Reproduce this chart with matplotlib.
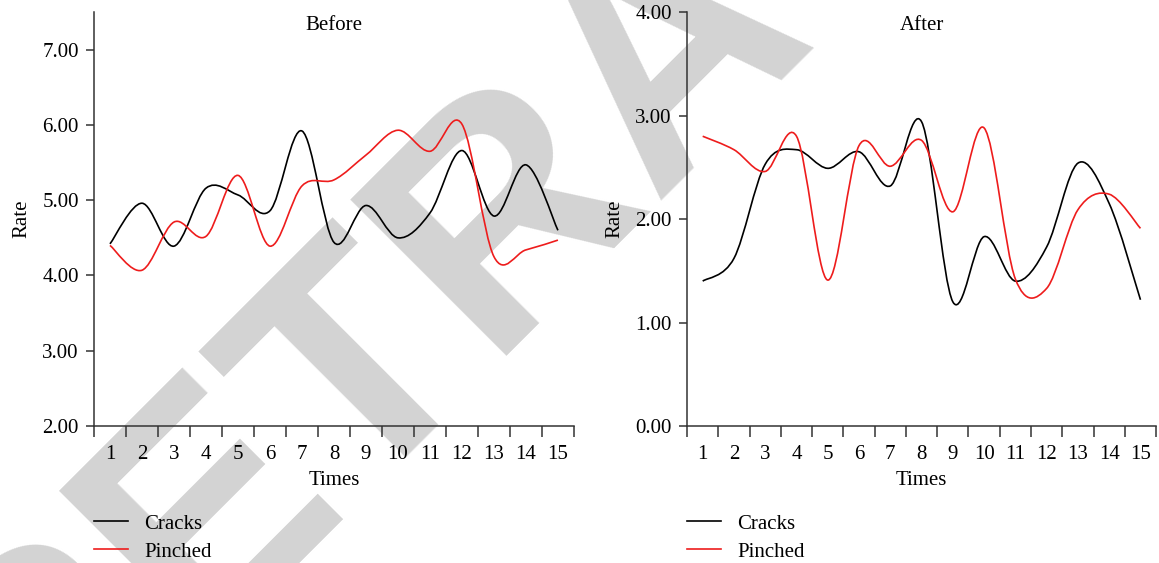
import numpy as np
import matplotlib
matplotlib.use("Agg")
import matplotlib.pyplot as plt
from matplotlib.path import Path
from matplotlib.patches import PathPatch

plt.rcParams['font.family'] = ['Liberation Serif', 'DejaVu Serif']

times = list(range(1, 16))

before_cracks = [4.42, 4.96, 4.39, 5.16, 5.07, 4.86, 5.92, 4.44, 4.93, 4.50, 4.83, 5.66, 4.79, 5.47, 4.60]
before_pinched = [4.40, 4.07, 4.71, 4.52, 5.33, 4.39, 5.19, 5.27, 5.60, 5.93, 5.65, 6.01, 4.25, 4.34, 4.47]

after_cracks = [1.40, 1.62, 2.53, 2.67, 2.49, 2.65, 2.32, 2.94, 1.20, 1.83, 1.40, 1.73, 2.54, 2.15, 1.22]
after_pinched = [2.80, 2.67, 2.46, 2.80, 1.41, 2.71, 2.51, 2.76, 2.07, 2.88, 1.42, 1.33, 2.09, 2.24, 1.91]

RED = '#ee1c1c'
FS = 15


def smooth_path(x, y):
    """Bezier path through the points, same style as spreadsheet smoothed lines."""
    pts = np.column_stack([np.asarray(x, float), np.asarray(y, float)])
    padded = np.vstack([pts[0], pts, pts[-1]])
    verts = [pts[0]]
    codes = [Path.MOVETO]
    for i in range(len(pts) - 1):
        p0, p1, p2, p3 = padded[i], padded[i + 1], padded[i + 2], padded[i + 3]
        verts += [p1 + (p2 - p0) / 6.0, p2 - (p3 - p1) / 6.0, p2]
        codes += [Path.CURVE4] * 3
    return Path(verts, codes)


def draw_panel(ax, cracks, pinched, ylim, yticks, title):
    ax.set_facecolor('none')
    for vals, col in [(cracks, 'black'), (pinched, RED)]:
        ax.add_patch(PathPatch(smooth_path(times, vals), facecolor='none',
                               edgecolor=col, lw=1.2, zorder=3))
    # empty lines, only used as legend handles
    ax.plot([], [], color='black', lw=1.2, label='Cracks')
    ax.plot([], [], color=RED, lw=1.2, label='Pinched')

    ax.set_xlim(0.5, 15.5)
    ax.set_ylim(*ylim)
    ax.set_yticks(yticks)
    ax.set_yticklabels([f'{v:.2f}' for v in yticks])
    # ticks sit between categories, labels at the centres
    ax.set_xticks(np.arange(0.5, 16, 1))
    ax.set_xticklabels([])
    ax.set_xticks(times, minor=True)
    ax.set_xticklabels([str(t) for t in times], minor=True)
    ax.tick_params(axis='x', which='major', length=8, width=1.1, color='#333333')
    ax.tick_params(axis='x', which='minor', length=0, pad=14, labelsize=FS)
    ax.tick_params(axis='y', length=6, width=1.1, color='#333333', labelsize=FS, pad=5)

    for s in ['top', 'right']:
        ax.spines[s].set_visible(False)
    for s in ['left', 'bottom']:
        ax.spines[s].set_color('#333333')
        ax.spines[s].set_linewidth(1.1)

    ax.set_xlabel('Times', fontsize=FS, labelpad=5)
    ax.set_ylabel('Rate', fontsize=FS, labelpad=8)
    ax.text(0.5, 0.99, title, transform=ax.transAxes, ha='center', va='top', fontsize=FS)
    ax.legend(loc='upper left', bbox_to_anchor=(0.0, -0.213), frameon=False,
              fontsize=FS, handlelength=1.65, handletextpad=0.75, labelspacing=0.4,
              borderaxespad=0, borderpad=0)


fig = plt.figure(figsize=(11.59, 5.63), dpi=100)

# watermark sits behind both panels
fig.text(0.632, 0.808, 'RETRACTED', rotation=45, fontsize=232, color='#d3d3d3',
         fontweight='bold', family='Liberation Sans', ha='center', va='baseline',
         rotation_mode='anchor', zorder=-5)

ax1 = fig.add_axes([0.0811, 0.2433, 0.4141, 0.7353])
ax2 = fig.add_axes([0.5928, 0.2433, 0.4047, 0.7353])

draw_panel(ax1, before_cracks, before_pinched, (2.0, 7.5),
           [2, 3, 4, 5, 6, 7], 'Before')
draw_panel(ax2, after_cracks, after_pinched, (0.0, 4.0),
           [0, 1, 2, 3, 4], 'After')

fig.savefig('out.png', dpi=100)
